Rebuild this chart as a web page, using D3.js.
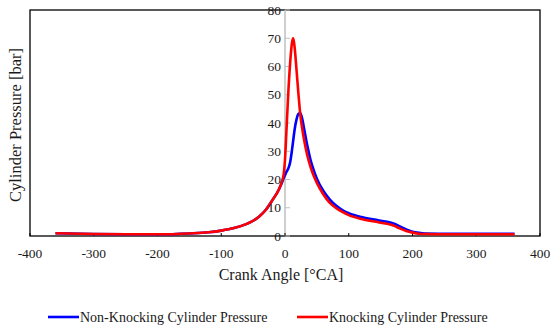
<!DOCTYPE html>
<meta charset="utf-8">
<style>
    body { margin: 0; background: #fff; }
    text { font-family: "Liberation Serif", "DejaVu Serif", serif; fill: #1a1a1a; }
</style>
<svg width="551" height="331"></svg>
<script src="https://cdn.jsdelivr.net/npm/d3@7/dist/d3.min.js"></script>
<script>
    // crank angle [°CA]
    var angles = [-360, -300, -250, -200, -150, -120, -100, -80, -60, -50, -40, -30, -20, -10, -5, -2, 0, 2, 5, 8, 11, 13, 15, 18, 21, 24, 27, 30, 35, 40, 45, 50, 60, 70, 80, 90, 100, 120, 140, 160, 170, 180, 190, 200, 210, 220, 260, 300, 360];

    // cylinder pressure [bar]
    var nonKnocking = [1.0, 0.7, 0.6, 0.6, 0.9, 1.3, 1.9, 2.8, 4.3, 5.4, 7.0, 9.3, 12.6, 16.3, 18.8, 20.5, 21.5, 22.6, 23.8, 26, 30.5, 34, 37.5, 41.2, 43.2, 43.5, 41.5, 38, 32, 27, 23.3, 20.3, 16, 13, 10.8, 9.2, 8.1, 6.7, 5.8, 5.0, 4.4, 3.4, 2.3, 1.5, 1.1, 0.9, 0.8, 0.8, 0.8];
    var knocking = [1.0, 0.7, 0.6, 0.6, 0.9, 1.3, 1.9, 2.8, 4.3, 5.4, 7.0, 9.3, 12.6, 16.3, 19.2, 22, 27, 36, 50, 61, 68.5, 70, 67, 59, 50.5, 43, 38, 34, 28.5, 24.5, 21.3, 18.8, 14.8, 11.8, 9.9, 8.5, 7.4, 6.0, 5.1, 4.3, 3.7, 2.7, 1.8, 1.2, 0.8, 0.7, 0.6, 0.6, 0.6];

    var xTicks = [-400, -300, -200, -100, 0, 100, 200, 300, 400];
    var yTicks = [0, 10, 20, 30, 40, 50, 60, 70, 80];

    var seriesNames = ["Non-Knocking Cylinder Pressure", "Knocking Cylinder Pressure"];
    var seriesColors = ["#0000ff", "#ff0000"];

    var svg = d3.select("svg");

    var plotLeft = 30, plotRight = 540, plotTop = 10, plotBottom = 236;

    var x = d3.scaleLinear().domain([-400, 400]).range([plotLeft, plotRight]);
    var y = d3.scaleLinear().domain([0, 80]).range([plotBottom, plotTop]);

    // frame
    svg.append("rect")
        .attr("x", plotLeft).attr("y", plotTop)
        .attr("width", plotRight - plotLeft).attr("height", plotBottom - plotTop)
        .attr("fill", "none").attr("stroke", "#000").attr("stroke-width", 1.3);

    // y axis sits at 0 °CA
    svg.append("line")
        .attr("x1", x(0)).attr("x2", x(0))
        .attr("y1", y(0)).attr("y2", y(80))
        .attr("stroke", "#bfbfbf").attr("stroke-width", 1.5);

    svg.append("g").selectAll("line")
        .data(yTicks)
        .enter().append("line")
        .attr("x1", x(0)).attr("x2", x(0) + 5)
        .attr("y1", function(d) { return y(d); })
        .attr("y2", function(d) { return y(d); })
        .attr("stroke", "#bfbfbf").attr("stroke-width", 1);

    svg.append("g").selectAll("line")
        .data(xTicks)
        .enter().append("line")
        .attr("x1", function(d) { return x(d); })
        .attr("x2", function(d) { return x(d); })
        .attr("y1", y(0)).attr("y2", y(0) - 3)
        .attr("stroke", "#000").attr("stroke-width", 1);

    // series
    var line = d3.line()
        .x(function(d) { return x(d[0]); })
        .y(function(d) { return y(d[1]); })
        .curve(d3.curveMonotoneX);

    [nonKnocking, knocking].forEach(function(values, i) {
        svg.append("path")
            .datum(angles.map(function(a, j) { return [a, values[j]]; }))
            .attr("fill", "none")
            .attr("stroke", seriesColors[i])
            .attr("stroke-width", 2.6)
            .attr("stroke-linejoin", "round")
            .attr("d", line);
    });

    // tick labels
    svg.append("g").selectAll("text")
        .data(xTicks)
        .enter().append("text")
        .attr("x", function(d) { return x(d); })
        .attr("y", 258)
        .attr("text-anchor", "middle")
        .style("font-size", "13.5px")
        .text(function(d) { return d; });

    svg.append("g").selectAll("text")
        .data(yTicks)
        .enter().append("text")
        .attr("x", x(0) - 4)
        .attr("y", function(d) { return y(d) + 4.5; })
        .attr("text-anchor", "end")
        .style("font-size", "13.5px")
        .text(function(d) { return d; });

    // titles
    svg.append("text")
        .attr("x", 281).attr("y", 280)
        .attr("text-anchor", "middle")
        .style("font-size", "16px")
        .text("Crank Angle [°CA]");

    svg.append("text")
        .attr("transform", "translate(21,125) rotate(-90)")
        .attr("text-anchor", "middle")
        .style("font-size", "16.5px")
        .text("Cylinder Pressure [bar]");

    // legend
    var legendX = [48, 297];
    seriesNames.forEach(function(name, i) {
        svg.append("line")
            .attr("x1", legendX[i]).attr("x2", legendX[i] + 31)
            .attr("y1", 317).attr("y2", 317)
            .attr("stroke", seriesColors[i]).attr("stroke-width", 2.6);
        svg.append("text")
            .attr("x", legendX[i] + 32).attr("y", 322)
            .style("font-size", "14px")
            .text(name);
    });
</script>
